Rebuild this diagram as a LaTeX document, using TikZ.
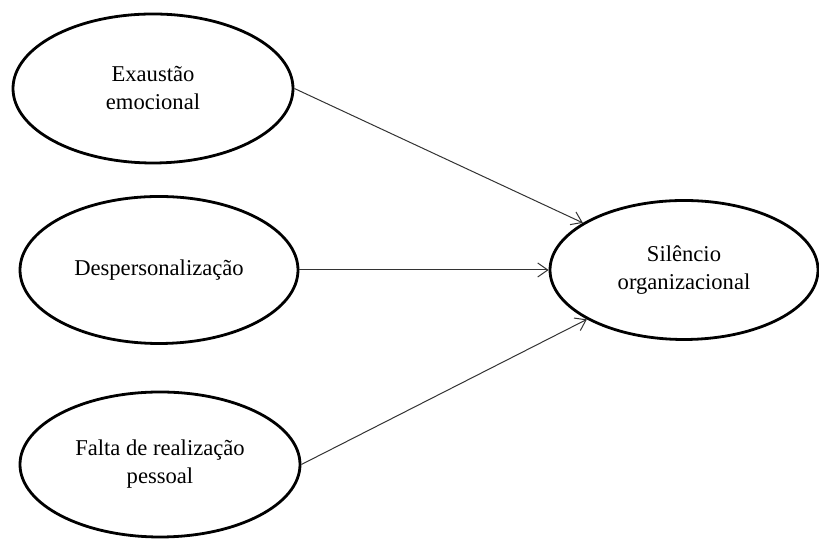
\documentclass[tikz,border=0pt]{standalone}
\usepackage{fontspec}
\setmainfont{Liberation Serif}
\usetikzlibrary{shapes.geometric,arrows.meta}
\tikzset{
  construto/.style={ellipse, draw, line width=1.4pt, inner sep=0pt, align=center,
    font=\fontsize{11.3}{14}\selectfont},
  seta/.style={-{Straight Barb[length=5pt,width=7pt]}, line width=0.5pt, black!80}
}
\begin{document}
\begin{tikzpicture}
            \useasboundingbox (0,0) rectangle (409.5pt,269.5pt);
            \node[construto, minimum width=140pt, minimum height=74.5pt] (exaustao) at (76.5pt,225.25pt) {Exaustão\\emocional};
            \node[construto, minimum width=139pt, minimum height=73.5pt] (desp) at (79.5pt,134.5pt) {Despersonalização};
            \node[construto, minimum width=140pt, minimum height=72.5pt] (falta) at (80pt,37.25pt) {Falta de realização\\pessoal};
            \node[construto, minimum width=134pt, minimum height=69.5pt] (silencio) at (342pt,134.5pt) {Silêncio\\organizacional};
            \draw[seta] (exaustao.east) -- (silencio);
            \draw[seta] (desp.east) -- (silencio.west);
            \draw[seta] (falta.east) -- (silencio);
\end{tikzpicture}
\end{document}
